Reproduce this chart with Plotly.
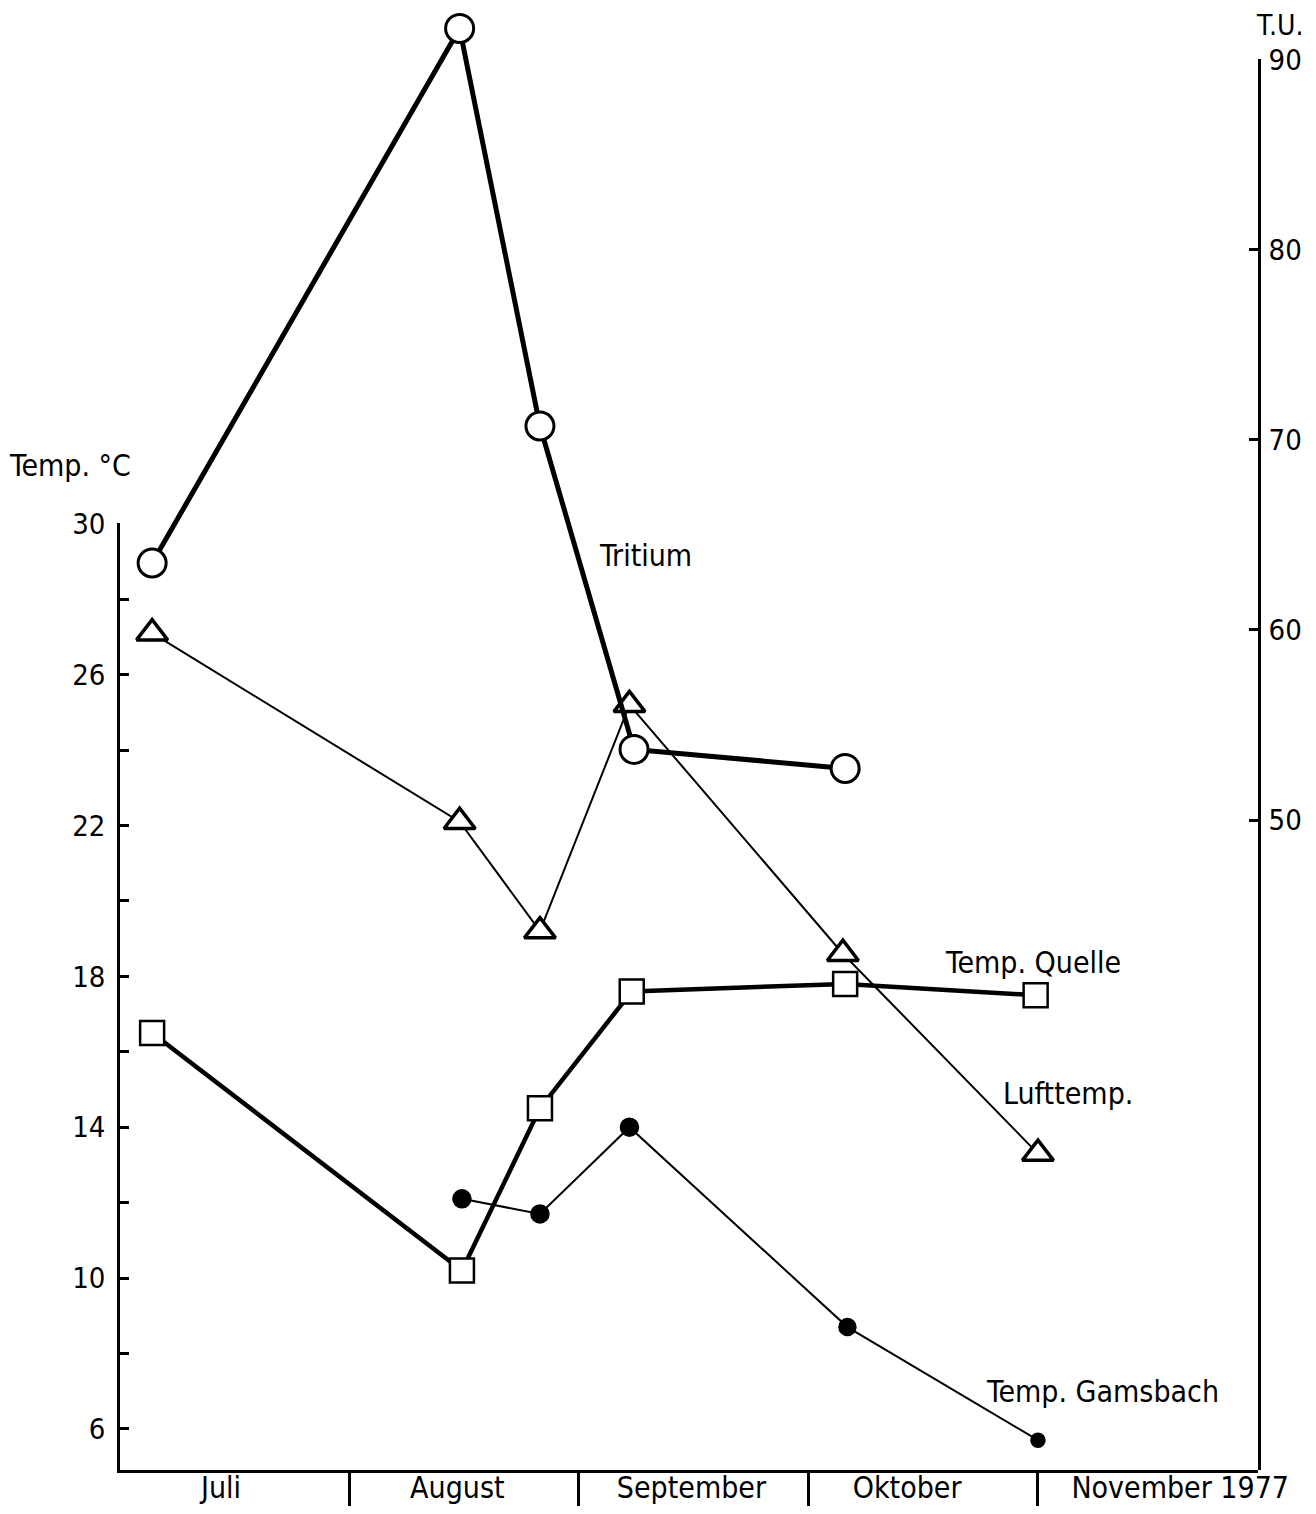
import plotly.graph_objects as go

# x positions in months since 1 July 1977 (1 = 1 Aug, 2 = 1 Sep, ...)
month_labels = ["Juli", "August", "September", "Oktober", "November 1977"]
month_label_pos = [0.44, 1.47, 2.49, 3.43, 4.62]
month_bounds = [1, 2, 3, 4]

tritium_x = [0.14, 1.48, 1.83, 2.24, 3.16]
tritium_tu = [63.5, 91.6, 70.7, 53.7, 52.7]

luft_x = [0.14, 1.48, 1.83, 2.22, 3.15, 4.0]
luft_t = [27.1, 22.1, 19.2, 25.2, 18.6, 13.3]

quelle_x = [0.14, 1.49, 1.83, 2.23, 3.16, 3.99]
quelle_t = [16.5, 10.2, 14.5, 17.6, 17.8, 17.5]

gams_x = [1.49, 1.83, 2.22, 3.17, 4.0]
gams_t = [12.1, 11.7, 14.0, 8.7, 5.7]

temp_ticks = [6, 10, 14, 18, 22, 26, 30]
tu_ticks = [50, 60, 70, 80, 90]

FONT = "DejaVu Sans Condensed"
fig = go.Figure()

fig.add_trace(go.Scatter(
    x=tritium_x, y=tritium_tu, yaxis="y3", mode="lines+markers", cliponaxis=False,
    line=dict(color="black", width=5),
    marker=dict(symbol="circle", size=28, color="white", line=dict(color="black", width=3)),
    showlegend=False))
fig.add_trace(go.Scatter(
    x=tritium_x, y=tritium_tu, yaxis="y2", mode="markers", cliponaxis=False,
    marker=dict(size=1, color="rgba(0,0,0,0)"), hoverinfo="skip", showlegend=False))

fig.add_trace(go.Scatter(
    x=quelle_x, y=quelle_t, yaxis="y", mode="lines+markers", cliponaxis=False,
    line=dict(color="black", width=4.5),
    marker=dict(symbol="square", size=24, color="white", line=dict(color="black", width=2.5)),
    showlegend=False))

fig.add_trace(go.Scatter(
    x=luft_x, y=luft_t, yaxis="y", mode="lines+markers", cliponaxis=False,
    line=dict(color="black", width=2),
    marker=dict(symbol="triangle-up", size=27, color="white", line=dict(color="black", width=3.5)),
    showlegend=False))

fig.add_trace(go.Scatter(
    x=gams_x, y=gams_t, yaxis="y", mode="lines+markers", cliponaxis=False,
    line=dict(color="black", width=2),
    marker=dict(symbol="circle", size=[18, 18, 18, 17, 14], color="#000000", opacity=1,
                line=dict(color="#000000", width=1.5)),
    showlegend=False))

text_font = dict(family=FONT, size=30, color="black")
anns = [
    dict(text="Tritium", x=2.29, y=29.15, xref="x", yref="y", yanchor="middle"),
    dict(text="Temp. Quelle", x=3.98, y=18.37, xref="x", yref="y", yanchor="middle"),
    dict(text="Lufttemp.", x=4.13, y=14.9, xref="x", yref="y", yanchor="middle"),
    dict(text="Temp. Gamsbach", x=4.28, y=6.98, xref="x", yref="y", yanchor="middle"),
    dict(text="Temp. °C", x=-0.044, y=0.688, xref="paper", yref="paper", yanchor="middle"),
    dict(text="T.U.", x=1.019, y=0.977, xref="paper", yref="paper", yanchor="bottom",
         font=dict(family=FONT, size=28, color="black")),
]
for a in anns:
    a.setdefault("font", text_font)
    a.update(showarrow=False, xanchor="center")

fig.update_layout(
    width=1300, height=1498,
    margin=dict(l=112, r=50, t=2, b=36),
    paper_bgcolor="white", plot_bgcolor="rgba(0,0,0,0)",
    font=dict(family=FONT, size=29, color="black"),
    annotations=anns,
    xaxis=dict(
        range=[0, 4.959], anchor="y", showline=True, linecolor="black", linewidth=2.5,
        showgrid=False, zeroline=False, tickmode="array",
        tickvals=month_label_pos, ticktext=month_labels, ticks="",
        tickfont=dict(family=FONT, size=30),
        minor=dict(tickmode="array", tickvals=month_bounds, ticks="outside",
                   ticklen=35, tickwidth=2.5, tickcolor="black", showgrid=False),
        automargin=False, ticklabelstandoff=-11,
    ),
    yaxis=dict(
        domain=[0, 0.6486], range=[4.91, 30.02], anchor="x",
        showline=True, linecolor="black", linewidth=2.5, showgrid=False, zeroline=False,
        tickmode="array", tickvals=temp_ticks, ticks="inside", ticklen=9, tickwidth=2.5,
        tickcolor="black",
        minor=dict(tick0=0, dtick=2, ticks="inside", ticklen=9, tickwidth=2.5,
                   tickcolor="black", showgrid=False),
        automargin=False, ticklabelstandoff=6,
    ),
    yaxis2=dict(
        domain=[0, 0.9664], range=[15.82, 90.02], anchor="x", side="right",
        showline=True, linecolor="black", linewidth=2.5, showgrid=False, zeroline=False,
        tickmode="array", tickvals=tu_ticks, ticks="inside", ticklen=9, tickwidth=2.5,
        tickcolor="black", automargin=False, ticklabelstandoff=2,
    ),
    yaxis3=dict(
        domain=[0, 1], range=[15.82, 92.57], anchor="x", visible=False,
        showgrid=False, zeroline=False,
    ),
)

fig.write_html("out.html")
